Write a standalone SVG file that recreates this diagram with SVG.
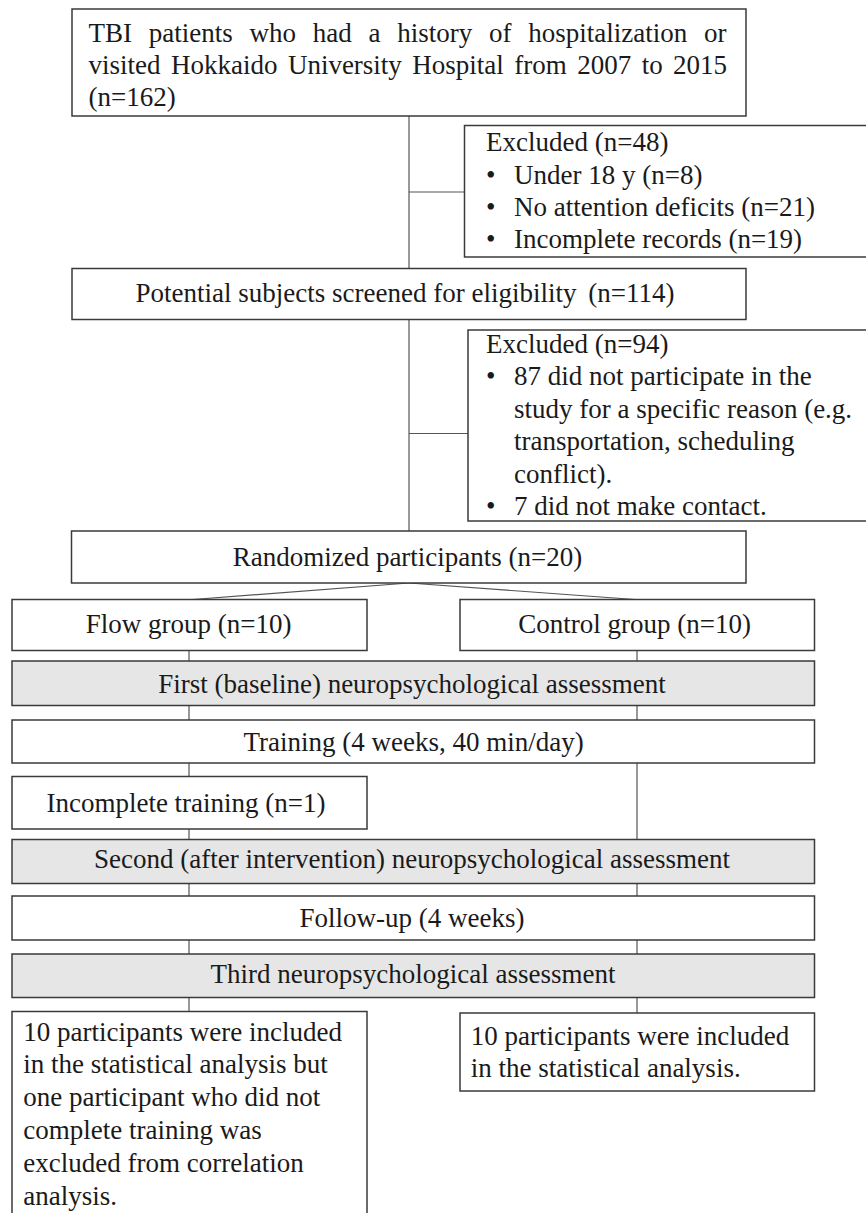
<svg xmlns="http://www.w3.org/2000/svg" width="866" height="1213" viewBox="0 0 866 1213">
<style>
.box{fill:#ffffff;stroke:#3a3a3a;stroke-width:1.5}
.gray{fill:#e6e6e6;stroke:#3a3a3a;stroke-width:1.5}
.t{font-family:"Liberation Serif","Times New Roman",serif;font-size:27px;fill:#1a1a1a}
.c{text-anchor:middle}
.conn line{stroke:#555555;stroke-width:1.2}
</style>
<rect width="866" height="1213" fill="#ffffff"/>
<g id="connectors" class="conn">
<line x1="409" y1="116" x2="409" y2="268.5"/>
<line x1="409" y1="192" x2="464.5" y2="192"/>
<line x1="409" y1="319.5" x2="409" y2="531"/>
<line x1="409" y1="433.5" x2="468" y2="433.5"/>
<line x1="409" y1="583" x2="193" y2="599.5"/>
<line x1="409" y1="583" x2="635" y2="599.5"/>
<line x1="189" y1="650.5" x2="189" y2="661"/>
<line x1="189" y1="705.5" x2="189" y2="720"/>
<line x1="189" y1="763" x2="189" y2="776.5"/>
<line x1="189" y1="829" x2="189" y2="839.5"/>
<line x1="189" y1="883.5" x2="189" y2="896"/>
<line x1="189" y1="940" x2="189" y2="954"/>
<line x1="189" y1="997.5" x2="189" y2="1011.5"/>
<line x1="637" y1="650.5" x2="637" y2="661"/>
<line x1="637" y1="705.5" x2="637" y2="720"/>
<line x1="637" y1="763" x2="637" y2="839.5"/>
<line x1="637" y1="883.5" x2="637" y2="896"/>
<line x1="637" y1="940" x2="637" y2="954"/>
<line x1="637" y1="997.5" x2="637" y2="1013"/>
</g>
<g id="n-tbi">
<rect class="box" x="72" y="9" width="674" height="107"/>
<text class="t" x="88.5" y="41.7" word-spacing="10">TBI patients who had a history of hospitalization or</text>
<text class="t" x="88.5" y="74" word-spacing="3.7">visited Hokkaido University Hospital from 2007 to 2015</text>
<text class="t" x="88.5" y="106.3">(n=162)</text>
</g>
<g id="n-excl1">
<rect class="box" x="464.5" y="125.5" width="410" height="131.5"/>
<text class="t" x="486" y="150.7">Excluded (n=48)</text>
<text class="t" x="486" y="183.5">•</text><text class="t" x="514" y="183.5">Under 18 y (n=8)</text>
<text class="t" x="486" y="216">•</text><text class="t" x="514" y="216">No attention deficits (n=21)</text>
<text class="t" x="486" y="248">•</text><text class="t" x="514" y="248">Incomplete records (n=19)</text>
</g>
<g id="n-potential">
<rect class="box" x="72" y="268.5" width="674" height="51"/>
<text class="t c" x="405" y="301.7">Potential subjects screened for eligibility <tspan dx="5">(n=114)</tspan></text>
</g>
<g id="n-excl2">
<rect class="box" x="468" y="330" width="410" height="191"/>
<text class="t" x="486" y="352.5">Excluded (n=94)</text>
<text class="t" x="486" y="385">•</text><text class="t" x="514" y="385">87 did not participate in the</text>
<text class="t" x="514" y="417.5">study for a specific reason (e.g.</text>
<text class="t" x="514" y="450">transportation, scheduling</text>
<text class="t" x="514" y="482.5">conflict).</text>
<text class="t" x="486" y="515">•</text><text class="t" x="514" y="515">7 did not make contact.</text>
</g>
<g id="n-random">
<rect class="box" x="71.5" y="531" width="674.5" height="52"/>
<text class="t c" x="407.5" y="565.7">Randomized participants (n=20)</text>
</g>
<g id="n-flow">
<rect class="box" x="12" y="599.5" width="355" height="51"/>
<text class="t c" x="188.6" y="633.3">Flow group (n=10)</text>
</g>
<g id="n-control">
<rect class="box" x="460" y="599.5" width="354.5" height="51"/>
<text class="t c" x="634.7" y="633.3">Control group (n=10)</text>
</g>
<g id="n-first">
<rect class="gray" x="12" y="661" width="802.5" height="44.5"/>
<text class="t c" x="412" y="692.7">First (baseline) neuropsychological assessment</text>
</g>
<g id="n-training">
<rect class="box" x="12" y="720" width="802.5" height="43"/>
<text class="t c" x="413.6" y="750.7">Training (4 weeks, 40 min/day)</text>
</g>
<g id="n-incomplete">
<rect class="box" x="12" y="776.5" width="355" height="52.5"/>
<text class="t c" x="186" y="811.7">Incomplete training (n=1)</text>
</g>
<g id="n-second">
<rect class="gray" x="12" y="839.5" width="802.5" height="44"/>
<text class="t c" x="412" y="868.3">Second (after intervention) neuropsychological assessment</text>
</g>
<g id="n-followup">
<rect class="box" x="12" y="896" width="802.5" height="44"/>
<text class="t c" x="412" y="926.7">Follow-up (4 weeks)</text>
</g>
<g id="n-third">
<rect class="gray" x="12" y="954" width="802.5" height="43.5"/>
<text class="t c" x="413" y="983.3">Third neuropsychological assessment</text>
</g>
<g id="n-result-flow">
<rect class="box" x="12" y="1011.5" width="355" height="215"/>
<text class="t" x="23.3" y="1040.7">10 participants were included</text>
<text class="t" x="23.3" y="1073.3">in the statistical analysis but</text>
<text class="t" x="23.3" y="1106.3">one participant who did not</text>
<text class="t" x="23.3" y="1139.3">complete training was</text>
<text class="t" x="23.3" y="1172.3">excluded from correlation</text>
<text class="t" x="23.3" y="1205">analysis.</text>
</g>
<g id="n-result-control">
<rect class="box" x="460" y="1013" width="354.5" height="78"/>
<text class="t" x="470.7" y="1045">10 participants were included</text>
<text class="t" x="470.7" y="1076.7">in the statistical analysis.</text>
</g>
</svg>
